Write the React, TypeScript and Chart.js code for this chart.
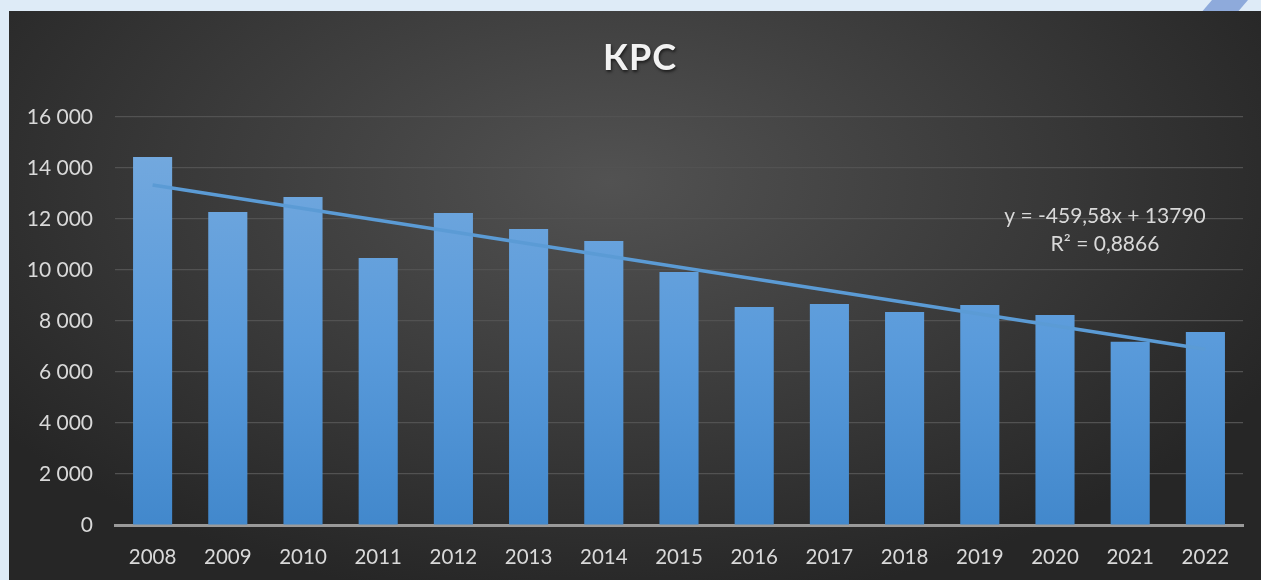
import React, { useEffect, useRef } from "react";
import { Chart, registerables } from "chart.js";

Chart.register(...registerables);

const categories = ["2008","2009","2010","2011","2012","2013","2014","2015","2016","2017","2018","2019","2020","2021","2022"];
const values = [14430, 12275, 12860, 10470, 12235, 11610, 11140, 9920, 8550, 8670, 8355, 8630, 8235, 7190, 7570];
// trend line endpoints (first and last year)
const trendValues: (number | null)[] = [13330, null, null, null, null, null, null, null, null, null, null, null, null, null, 6896];
const trendLabel = ["y = -459,58x + 13790", "R² = 0,8866"];
const titleText = "КРС";

const FONT = "Lato, 'Open Sans', sans-serif";
const TEXT = "#d9d9d9";

const overlayPlugin = {
  id: "overlay",
  afterDatasetsDraw(chart: any) {
    const { ctx, chartArea, width } = chart;
    ctx.save();
    ctx.textAlign = "center";
    ctx.textBaseline = "middle";
    // title
    ctx.font = `bold 36px ${FONT}`;
    ctx.shadowColor = "rgba(0,0,0,0.6)";
    ctx.shadowOffsetX = 1;
    ctx.shadowOffsetY = 2;
    ctx.shadowBlur = 3;
    ctx.fillStyle = "#f2f2f2";
    (ctx as any).letterSpacing = "1px";
    ctx.fillText(titleText, width / 2 + 5, 47);
    (ctx as any).letterSpacing = "0px";
    ctx.shadowColor = "transparent";
    // trend label
    ctx.font = `21px ${FONT}`;
    ctx.fillStyle = TEXT;
    const cx = chartArea.right - 138;
    ctx.fillText(trendLabel[0], cx, chartArea.top + 99);
    ctx.fillText(trendLabel[1], cx, chartArea.top + 127);
    ctx.restore();
  },
};

export default function App() {
  const ref = useRef<HTMLCanvasElement | null>(null);
  useEffect(() => {
    document.body.style.margin = "0";
    const canvas = ref.current!;
    const chart = new Chart(canvas, {
      type: "bar",
      data: {
        labels: categories,
        datasets: [
          {
            type: "line",
            data: trendValues,
            borderColor: "#5b9bd5",
            borderWidth: 3.5,
            pointRadius: 0,
            spanGaps: true,
            fill: false,
            order: 0,
          } as any,
          {
            type: "bar",
            data: values,
            backgroundColor: (c: any) => {
              const area = c.chart.chartArea;
              if (!area) return "#5b9bd5";
              const g = c.chart.ctx.createLinearGradient(0, area.bottom, 0, area.top + 40);
              g.addColorStop(0, "#4288cc");
              g.addColorStop(0.5, "#5a9bdb");
              g.addColorStop(1, "#72a8de");
              return g;
            },
            barPercentage: 0.52,
            categoryPercentage: 1,
            order: 1,
          },
        ],
      },
      options: {
        responsive: false,
        animation: false,
        layout: { padding: { top: 106, right: 18, bottom: 15, left: 0 } },
        plugins: { legend: { display: false }, tooltip: { enabled: false }, title: { display: false } },
        scales: {
          x: {
            grid: { display: false, drawTicks: false },
            border: { display: true, color: "#9a9a9a", width: 3 },
            ticks: { color: TEXT, font: { family: FONT, size: 20.5 }, padding: 20 },
            afterFit: (s: any) => { s.height = 40; },
          },
          y: {
            min: 0,
            max: 16000,
            grid: { color: "#525252", lineWidth: 1.2, drawTicks: false },
            border: { display: false },
            ticks: {
              stepSize: 2000,
              color: TEXT,
              font: { family: FONT, size: 21 },
              padding: 22,
              callback: (v: any) => Number(v).toLocaleString("ru-RU").replace(/\s/g, " "),
            },
            afterFit: (s: any) => { s.width = 106; },
          },
        },
      },
      plugins: [overlayPlugin],
    });
    return () => chart.destroy();
  }, []);

  return (
    <div style={{ position: "relative", width: 1261, height: 580, background: "#deebf7", overflow: "hidden" }}>
      <div
        style={{
          position: "absolute",
          left: 1200,
          top: 0,
          width: 48,
          height: 14,
          background: "#8eaadb",
          clipPath: "polygon(12px 0, 48px 0, 36px 14px, 0 14px)",
        }}
      />
      <div
        style={{
          position: "absolute",
          left: 9,
          top: 11,
          width: 1252,
          height: 569,
          background: "radial-gradient(ellipse 60% 75% at 48% 30%, #525252 0%, #3a3a3a 55%, #262626 100%)",
        }}
      >
        <canvas ref={ref} width={1252} height={569} style={{ display: "block" }} />
      </div>
    </div>
  );
}
